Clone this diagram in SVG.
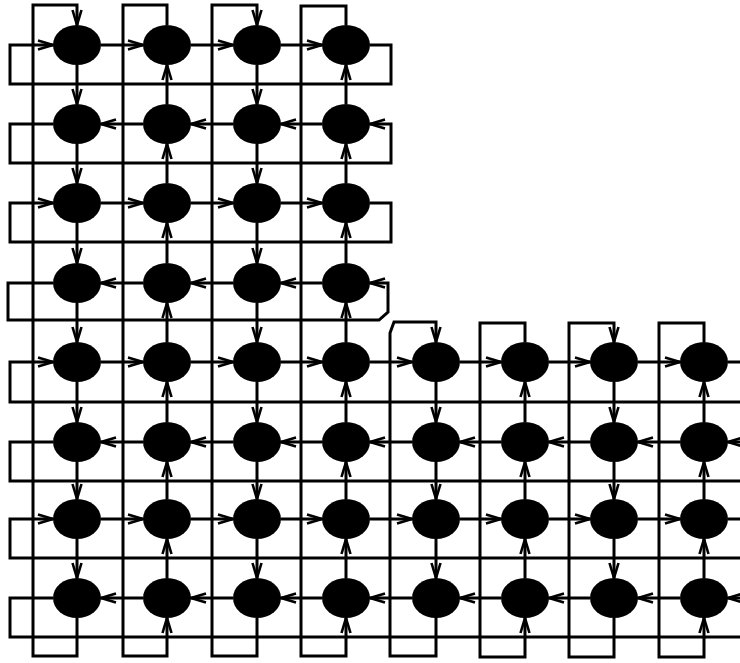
<svg xmlns="http://www.w3.org/2000/svg" width="740" height="663" viewBox="0 0 740 663">
<style>
.n{fill:#000}
.c{fill:none;stroke:#000;stroke-width:3;stroke-linejoin:miter}
.a{marker-end:url(#ah)}
</style>
<defs>
<marker id="ah" markerUnits="userSpaceOnUse" markerWidth="18" markerHeight="12" viewBox="-2 -6 18 12" refX="15" refY="0" orient="auto" overflow="visible">
<path d="M0,-4.5 L15,0 L0,4.5" fill="none" stroke="#000" stroke-width="2.6"/>
</marker>
</defs>
<rect width="740" height="663" fill="#fff"/>
<g id="connectors" class="c">
<!-- column rings -->
<path class="a" d="M77,618 V656 H33 V5 H77 V25"/>
<path class="a" d="M167,25 V5 H123 V656 H167 V618"/>
<path class="a" d="M257,618 V656 H212 V5 H257 V25"/>
<path class="a" d="M346,25 V6 H301 V656 H346 V618"/>
<path class="a" d="M436,618 V656 H390 V333 L394,322 H436 V342"/>
<path class="a" d="M525,342 V323 H480 V657 H525 V618"/>
<path class="a" d="M614,618 V657 H569 V323 H614 V342"/>
<path class="a" d="M704,342 V323 H659 V657 H704 V618"/>
<!-- row rings -->
<path class="a" d="M370,45 H391 V84 H10 V45 H53"/>
<path class="a" d="M53,124 H10 V163 H391 V124 H370"/>
<path class="a" d="M370,203 H391 V242 H10 V203 H53"/>
<path class="a" d="M53,283 H8 V320 H379 L388,312 V283 H370"/>
<path class="a" d="M728,362 H760 V402 H10 V362 H53"/>
<path class="a" d="M53,442 H10 V481 H760 V442 H728"/>
<path class="a" d="M728,519 H760 V558 H10 V519 H53"/>
<path class="a" d="M53,598 H10 V637 H760 V598 H728"/>
<!-- row 1 right -->
<path class="a" d="M101,45 H143"/><path class="a" d="M191,45 H233"/><path class="a" d="M281,45 H322"/>
<!-- row 2 left -->
<path class="a" d="M143,124 H101"/><path class="a" d="M233,124 H191"/><path class="a" d="M322,124 H281"/>
<!-- row 3 right -->
<path class="a" d="M101,203 H143"/><path class="a" d="M191,203 H233"/><path class="a" d="M281,203 H322"/>
<!-- row 4 left -->
<path class="a" d="M143,283 H101"/><path class="a" d="M233,283 H191"/><path class="a" d="M322,283 H281"/>
<!-- row 5 right -->
<path class="a" d="M101,362 H143"/><path class="a" d="M191,362 H233"/><path class="a" d="M281,362 H322"/><path class="a" d="M370,362 H412"/><path class="a" d="M460,362 H501"/><path class="a" d="M549,362 H590"/><path class="a" d="M638,362 H680"/>
<!-- row 6 left -->
<path class="a" d="M143,442 H101"/><path class="a" d="M233,442 H191"/><path class="a" d="M322,442 H281"/><path class="a" d="M412,442 H370"/><path class="a" d="M501,442 H460"/><path class="a" d="M590,442 H549"/><path class="a" d="M680,442 H638"/>
<!-- row 7 right -->
<path class="a" d="M101,519 H143"/><path class="a" d="M191,519 H233"/><path class="a" d="M281,519 H322"/><path class="a" d="M370,519 H412"/><path class="a" d="M460,519 H501"/><path class="a" d="M549,519 H590"/><path class="a" d="M638,519 H680"/>
<!-- row 8 left -->
<path class="a" d="M143,598 H101"/><path class="a" d="M233,598 H191"/><path class="a" d="M322,598 H281"/><path class="a" d="M412,598 H370"/><path class="a" d="M501,598 H460"/><path class="a" d="M590,598 H549"/><path class="a" d="M680,598 H638"/>
<!-- col 1 down -->
<path class="a" d="M77,65 V104"/><path class="a" d="M77,144 V183"/><path class="a" d="M77,223 V263"/><path class="a" d="M77,303 V342"/><path class="a" d="M77,382 V422"/><path class="a" d="M77,462 V499"/><path class="a" d="M77,539 V578"/>
<!-- col 2 up -->
<path class="a" d="M167,104 V65"/><path class="a" d="M167,183 V144"/><path class="a" d="M167,263 V223"/><path class="a" d="M167,342 V303"/><path class="a" d="M167,422 V382"/><path class="a" d="M167,499 V462"/><path class="a" d="M167,578 V539"/>
<!-- col 3 down -->
<path class="a" d="M257,65 V104"/><path class="a" d="M257,144 V183"/><path class="a" d="M257,223 V263"/><path class="a" d="M257,303 V342"/><path class="a" d="M257,382 V422"/><path class="a" d="M257,462 V499"/><path class="a" d="M257,539 V578"/>
<!-- col 4 up -->
<path class="a" d="M346,104 V65"/><path class="a" d="M346,183 V144"/><path class="a" d="M346,263 V223"/><path class="a" d="M346,342 V303"/><path class="a" d="M346,422 V382"/><path class="a" d="M346,499 V462"/><path class="a" d="M346,578 V539"/>
<!-- col 5 down -->
<path class="a" d="M436,382 V422"/><path class="a" d="M436,462 V499"/><path class="a" d="M436,539 V578"/>
<!-- col 6 up -->
<path class="a" d="M525,422 V382"/><path class="a" d="M525,499 V462"/><path class="a" d="M525,578 V539"/>
<!-- col 7 down -->
<path class="a" d="M614,382 V422"/><path class="a" d="M614,462 V499"/><path class="a" d="M614,539 V578"/>
<!-- col 8 up -->
<path class="a" d="M704,422 V382"/><path class="a" d="M704,499 V462"/><path class="a" d="M704,578 V539"/>
</g>
<g id="nodes">
<g id="n1-1"><ellipse class="n" cx="77" cy="45" rx="24" ry="20"/></g>
<g id="n1-2"><ellipse class="n" cx="167" cy="45" rx="24" ry="20"/></g>
<g id="n1-3"><ellipse class="n" cx="257" cy="45" rx="24" ry="20"/></g>
<g id="n1-4"><ellipse class="n" cx="346" cy="45" rx="24" ry="20"/></g>
<g id="n2-1"><ellipse class="n" cx="77" cy="124" rx="24" ry="20"/></g>
<g id="n2-2"><ellipse class="n" cx="167" cy="124" rx="24" ry="20"/></g>
<g id="n2-3"><ellipse class="n" cx="257" cy="124" rx="24" ry="20"/></g>
<g id="n2-4"><ellipse class="n" cx="346" cy="124" rx="24" ry="20"/></g>
<g id="n3-1"><ellipse class="n" cx="77" cy="203" rx="24" ry="20"/></g>
<g id="n3-2"><ellipse class="n" cx="167" cy="203" rx="24" ry="20"/></g>
<g id="n3-3"><ellipse class="n" cx="257" cy="203" rx="24" ry="20"/></g>
<g id="n3-4"><ellipse class="n" cx="346" cy="203" rx="24" ry="20"/></g>
<g id="n4-1"><ellipse class="n" cx="77" cy="283" rx="24" ry="20"/></g>
<g id="n4-2"><ellipse class="n" cx="167" cy="283" rx="24" ry="20"/></g>
<g id="n4-3"><ellipse class="n" cx="257" cy="283" rx="24" ry="20"/></g>
<g id="n4-4"><ellipse class="n" cx="346" cy="283" rx="24" ry="20"/></g>
<g id="n5-1"><ellipse class="n" cx="77" cy="362" rx="24" ry="20"/></g>
<g id="n5-2"><ellipse class="n" cx="167" cy="362" rx="24" ry="20"/></g>
<g id="n5-3"><ellipse class="n" cx="257" cy="362" rx="24" ry="20"/></g>
<g id="n5-4"><ellipse class="n" cx="346" cy="362" rx="24" ry="20"/></g>
<g id="n5-5"><ellipse class="n" cx="436" cy="362" rx="24" ry="20"/></g>
<g id="n5-6"><ellipse class="n" cx="525" cy="362" rx="24" ry="20"/></g>
<g id="n5-7"><ellipse class="n" cx="614" cy="362" rx="24" ry="20"/></g>
<g id="n5-8"><ellipse class="n" cx="704" cy="362" rx="24" ry="20"/></g>
<g id="n6-1"><ellipse class="n" cx="77" cy="442" rx="24" ry="20"/></g>
<g id="n6-2"><ellipse class="n" cx="167" cy="442" rx="24" ry="20"/></g>
<g id="n6-3"><ellipse class="n" cx="257" cy="442" rx="24" ry="20"/></g>
<g id="n6-4"><ellipse class="n" cx="346" cy="442" rx="24" ry="20"/></g>
<g id="n6-5"><ellipse class="n" cx="436" cy="442" rx="24" ry="20"/></g>
<g id="n6-6"><ellipse class="n" cx="525" cy="442" rx="24" ry="20"/></g>
<g id="n6-7"><ellipse class="n" cx="614" cy="442" rx="24" ry="20"/></g>
<g id="n6-8"><ellipse class="n" cx="704" cy="442" rx="24" ry="20"/></g>
<g id="n7-1"><ellipse class="n" cx="77" cy="519" rx="24" ry="20"/></g>
<g id="n7-2"><ellipse class="n" cx="167" cy="519" rx="24" ry="20"/></g>
<g id="n7-3"><ellipse class="n" cx="257" cy="519" rx="24" ry="20"/></g>
<g id="n7-4"><ellipse class="n" cx="346" cy="519" rx="24" ry="20"/></g>
<g id="n7-5"><ellipse class="n" cx="436" cy="519" rx="24" ry="20"/></g>
<g id="n7-6"><ellipse class="n" cx="525" cy="519" rx="24" ry="20"/></g>
<g id="n7-7"><ellipse class="n" cx="614" cy="519" rx="24" ry="20"/></g>
<g id="n7-8"><ellipse class="n" cx="704" cy="519" rx="24" ry="20"/></g>
<g id="n8-1"><ellipse class="n" cx="77" cy="598" rx="24" ry="20"/></g>
<g id="n8-2"><ellipse class="n" cx="167" cy="598" rx="24" ry="20"/></g>
<g id="n8-3"><ellipse class="n" cx="257" cy="598" rx="24" ry="20"/></g>
<g id="n8-4"><ellipse class="n" cx="346" cy="598" rx="24" ry="20"/></g>
<g id="n8-5"><ellipse class="n" cx="436" cy="598" rx="24" ry="20"/></g>
<g id="n8-6"><ellipse class="n" cx="525" cy="598" rx="24" ry="20"/></g>
<g id="n8-7"><ellipse class="n" cx="614" cy="598" rx="24" ry="20"/></g>
<g id="n8-8"><ellipse class="n" cx="704" cy="598" rx="24" ry="20"/></g>
</g>
</svg>
